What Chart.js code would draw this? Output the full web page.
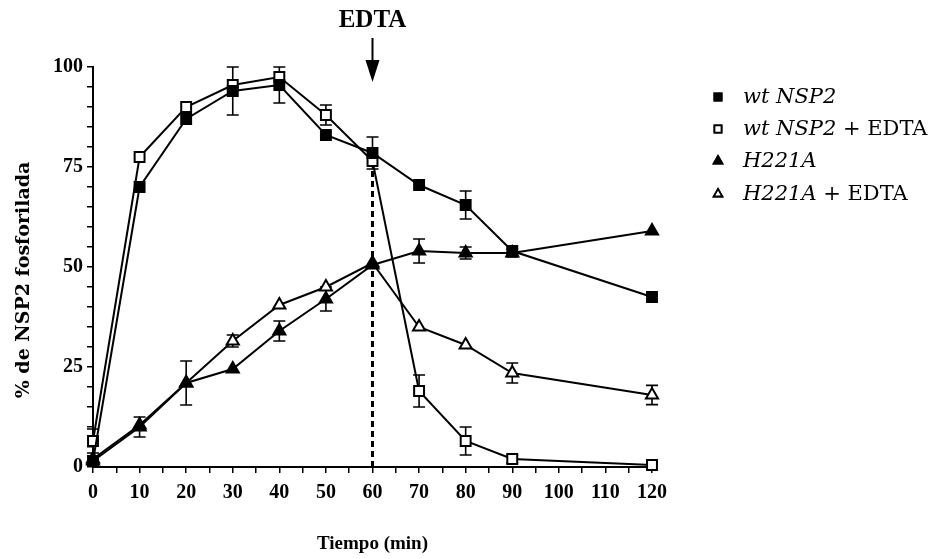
<!DOCTYPE html>
<html>
<head>
<meta charset="utf-8">
<script src="https://cdn.jsdelivr.net/npm/chart.js@4/dist/chart.umd.min.js"></script>
<style>
  html, body { margin: 0; padding: 0; background: #fff; }
  #wrap { position: relative; width: 936px; height: 559px; }
</style>
</head>
<body>
<div id="wrap"><canvas id="chart" width="936" height="559"></canvas></div>
<script>
const WIDE = '"DejaVu Serif", "Liberation Serif", serif';
const TIMES = '"Liberation Serif", "DejaVu Serif", serif';

// time points (min)
const minutes = [0, 10, 20, 30, 40, 50, 60, 70, 80, 90, 120];

// % NSP2 fosforilada
const wtNsp2 = [1.5, 70, 87, 94, 95.5, 83, 78.5, 70.5, 65.5, 54, 42.5];
const wtNsp2Err = [0, 0, 0, 6, 4.5, 0, 4, 0, 3.5, 0, 0];
const wtNsp2Edta = [6.5, 77.5, 90, 95.5, 97.5, 88, 76.5, 19, 6.5, 2, 0.5];
const wtNsp2EdtaErr = [3, 0, 0, 0, 0, 2.5, 0, 4, 3.5, 1, 0.8];
const h221a = [1.5, 10, 21, 24.5, 34, 42, 50.5, 54, 53.5, 53.5, 59];
const h221aErr = [0, 2.5, 5.5, 0, 2.5, 3, 0, 3, 1.5, 1, 0];
const h221aEdta = [2, 10.5, 21, 31.5, 40.5, 45, 51, 35, 30.5, 23.5, 18];
const h221aEdtaErr = [0, 0, 0, 1.5, 0, 0, 0, 0, 0, 2.5, 2.4];

const edtaTime = 60;

function pts(values) {
  return minutes.map((m, i) => ({ x: m, y: values[i] }));
}

const series = [
  { label: "wt NSP2", values: wtNsp2, err: wtNsp2Err, style: "rect", fill: "#000" },
  { label: "wt NSP2 + EDTA", values: wtNsp2Edta, err: wtNsp2EdtaErr, style: "rect", fill: "#fff" },
  { label: "H221A", values: h221a, err: h221aErr, style: "triangle", fill: "#000" },
  { label: "H221A + EDTA", values: h221aEdta, err: h221aEdtaErr, style: "triangle", fill: "#fff" }
];

// legend text pieces: [text, italic]
const legendParts = [
  [["wt NSP2", true]],
  [["wt NSP2", true], [" + EDTA", false]],
  [["H221A", true]],
  [["H221A", true], [" + EDTA", false]]
];

const errorBars = {
  id: "errorBars",
  beforeDatasetsDraw(chart) {
    const { ctx, scales: { x, y } } = chart;
    ctx.save();
    ctx.strokeStyle = "#000";
    ctx.lineWidth = 1.6;
    series.forEach(s => {
      s.values.forEach((v, i) => {
        const e = s.err[i];
        if (!e) return;
        const px = x.getPixelForValue(minutes[i]);
        const top = y.getPixelForValue(v + e);
        const bot = y.getPixelForValue(v - e);
        ctx.beginPath();
        ctx.moveTo(px, top); ctx.lineTo(px, bot);
        ctx.moveTo(px - 6, top); ctx.lineTo(px + 6, top);
        ctx.moveTo(px - 6, bot); ctx.lineTo(px + 6, bot);
        ctx.stroke();
      });
    });

    // dashed EDTA line
    const ex = x.getPixelForValue(edtaTime);
    ctx.setLineDash([6, 4]);
    ctx.lineWidth = 3;
    ctx.beginPath();
    ctx.moveTo(ex, y.getPixelForValue(0));
    ctx.lineTo(ex, y.getPixelForValue(wtNsp2[minutes.indexOf(edtaTime)]));
    ctx.stroke();
    ctx.restore();
  },
  afterDraw(chart) {
    const { ctx, scales: { x } } = chart;
    const ex = x.getPixelForValue(edtaTime);
    ctx.save();
    ctx.fillStyle = "#000";
    ctx.strokeStyle = "#000";
    ctx.font = "bold 25px " + TIMES;
    ctx.textAlign = "center";
    ctx.textBaseline = "middle";
    ctx.fillText("EDTA", ex, 21);
    ctx.lineWidth = 2;
    ctx.beginPath();
    ctx.moveTo(ex, 38); ctx.lineTo(ex, 64);
    ctx.stroke();
    ctx.beginPath();
    ctx.moveTo(ex - 7, 60); ctx.lineTo(ex + 7, 60); ctx.lineTo(ex, 82);
    ctx.closePath();
    ctx.fill();

    // y axis title
    ctx.save();
    ctx.translate(24, 280);
    ctx.rotate(-Math.PI / 2);
    ctx.font = "bold 19px " + WIDE;
    ctx.fillText("% de NSP2 fosforilada", 0, 0);
    ctx.restore();

    // legend
    const lx = 718, tx = 743;
    const rows = [97, 129, 161, 194];
    series.forEach((s, i) => {
      Chart.helpers.drawPoint(ctx, {
        pointStyle: s.style, radius: 5, rotation: 0, borderWidth: 1.8
      }, lx, rows[i]);
      ctx.fillStyle = s.fill;
      ctx.strokeStyle = "#000";
      ctx.lineWidth = 1.8;
      ctx.fill();
      ctx.stroke();
      ctx.fillStyle = "#000";
      ctx.textAlign = "left";
      let cx = tx;
      legendParts[i].forEach(([t, it]) => {
        ctx.font = (it ? "italic " : "") + "21px " + WIDE;
        ctx.fillText(t, cx, rows[i] + 1);
        cx += ctx.measureText(t).width;
      });
    });
    ctx.restore();
  }
};

const tickFont = { family: TIMES, size: 20, weight: "bold" };

new Chart(document.getElementById("chart"), {
  type: "line",
  data: {
    datasets: series.map(s => ({
      label: s.label,
      data: pts(s.values),
      borderColor: "#000",
      borderWidth: 2,
      backgroundColor: s.fill,
      pointStyle: s.style,
      pointRadius: 7,
      pointBorderWidth: 2,
      pointBackgroundColor: s.fill,
      pointBorderColor: "#000",
      tension: 0,
      clip: false
    }))
  },
  options: {
    responsive: false,
    animation: false,
    events: [],
    layout: { padding: { left: 0, top: 67, right: 284, bottom: 0 } },
    plugins: { legend: { display: false }, tooltip: { enabled: false } },
    scales: {
      x: {
        type: "linear",
        min: 0,
        max: 120,
        afterFit: s => { s.height = 92; },
        ticks: {
          stepSize: 5,
          autoSkip: false,
          maxRotation: 0,
          color: "#000",
          font: tickFont,
          padding: 8,
          callback: v => (v % 10 === 0 ? v : "")
        },
        grid: { drawOnChartArea: false, color: "#000", tickLength: 6, lineWidth: 1.5 },
        border: { color: "#000", width: 2 },
        title: { display: true, text: "Tiempo (min)", color: "#000", font: { family: TIMES, size: 19, weight: "bold" }, padding: { top: 20, bottom: 4 } }
      },
      y: {
        min: 0,
        max: 100,
        afterFit: s => { s.width = 93; },
        ticks: {
          stepSize: 5,
          autoSkip: false,
          color: "#000",
          font: tickFont,
          padding: 4,
          callback: v => (v % 25 === 0 ? v : "")
        },
        grid: { drawOnChartArea: false, color: "#000", tickLength: 6, lineWidth: 1.5 },
        border: { color: "#000", width: 2 },
        title: { display: false }
      }
    }
  },
  plugins: [errorBars]
});
</script>
</body>
</html>
